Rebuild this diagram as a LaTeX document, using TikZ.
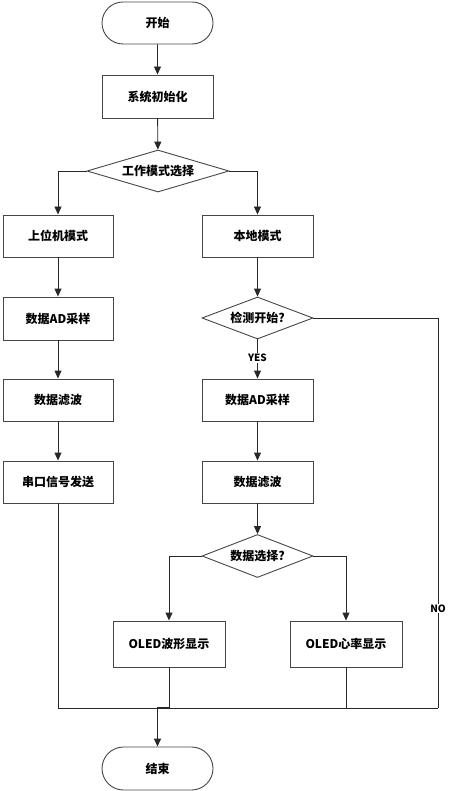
\documentclass[tikz,border=0pt]{standalone}
\usepackage{fontspec}
\newfontfamily\cjk{Noto Sans CJK SC}[BoldFont={Noto Sans CJK SC Black}]
\usetikzlibrary{shapes.geometric,shapes.misc,arrows.meta}
\definecolor{edge}{RGB}{70,70,70}
\definecolor{wire}{RGB}{40,40,40}
\begin{document}
\begin{tikzpicture}[x=1pt,y=-1pt,
  every node/.style={font=\cjk\bfseries\fontsize{12}{14}\selectfont, text=black},
  procbox/.style={draw=edge, line width=0.9pt, rectangle, minimum width=111pt, minimum height=43pt, inner sep=0pt},
  termbox/.style={draw=edge, line width=0.9pt, rounded rectangle, minimum width=111pt, minimum height=42pt, inner sep=0pt},
  decbox/.style={draw=edge, line width=0.9pt, diamond, inner sep=0pt},
  conn/.style={draw=wire, line width=0.9pt},
  arr/.style={conn, -{Triangle[length=8pt,width=7pt]}},
  lbl/.style={font=\cjk\bfseries\fontsize{10}{12}\selectfont, fill=white, inner sep=1pt}
]
\useasboundingbox (0,0) rectangle (471,791);
% nodes
\node[termbox] (start) at (157.5,23) {开始};
\node[procbox] (init) at (157.5,96.5) {系统初始化};
\node[decbox, aspect=3.38, minimum width=142pt, minimum height=42pt] (mode) at (158,171) {工作模式选择};
\node[procbox, minimum width=110pt, minimum height=42pt] (upper) at (58,236) {上位机模式};
\node[procbox, minimum width=110pt] (adl) at (58,318.5) {数据AD采样};
\node[procbox, minimum width=110pt, minimum height=42pt] (fil) at (58,400) {数据滤波};
\node[procbox, minimum width=110pt, minimum height=42pt] (serial) at (58,482) {串口信号发送};
\node[procbox, minimum height=42pt] (local) at (257.5,236) {本地模式};
\node[decbox, aspect=2.64, minimum width=111pt, minimum height=42pt] (detect) at (257.5,318) {检测开始?};
\node[procbox, minimum height=42pt] (adr) at (257.5,400) {数据AD采样};
\node[procbox, minimum height=42pt] (fir) at (257.5,482) {数据滤波};
\node[decbox, aspect=2.58, minimum width=111pt, minimum height=43pt] (sel) at (257.5,556) {数据选择?};
\node[procbox, minimum width=112pt, minimum height=46pt] (oledl) at (169,644) {OLED波形显示};
\node[procbox, minimum width=112pt, minimum height=46pt] (oledr) at (346,644) {OLED心率显示};
\node[termbox, minimum height=43pt] (stop) at (157.5,768.5) {结束};
% junction coordinates
\coordinate (jl) at (58,708);
\coordinate (jn) at (438,708);
\coordinate (jm) at (169,708);
\coordinate (jr) at (346,708);
\coordinate (je) at (157.5,708);
\coordinate (nt) at (438,318);
% connectors
\draw[arr] (start) -- (init);
\draw[arr] (init) -- (mode);
\draw[arr] (mode.west) -| (upper.north);
\draw[arr] (mode.east) -| (local.north);
\draw[arr] (upper) -- (adl);
\draw[arr] (adl) -- (fil);
\draw[arr] (fil) -- (serial);
\draw[arr] (local) -- (detect);
\draw[arr] (detect) -- node[lbl, pos=0.48] {YES} (adr);
\draw[arr] (adr) -- (fir);
\draw[arr] (fir) -- (sel);
\draw[arr] (sel.west) -| (oledl.north);
\draw[arr] (sel.east) -| (oledr.north);
\draw[conn] (detect.east) -- (nt) -- node[lbl, pos=0.745] {NO} (jn);
\draw[conn] (serial.south) -- (jl) -- (jn);
\draw[conn] (oledl.south) -- (jm);
\draw[conn] (oledr.south) -- (jr);
\draw[arr, line width=1.4pt] (jm) -- (je) -- (stop.north);
\end{tikzpicture}
\end{document}
